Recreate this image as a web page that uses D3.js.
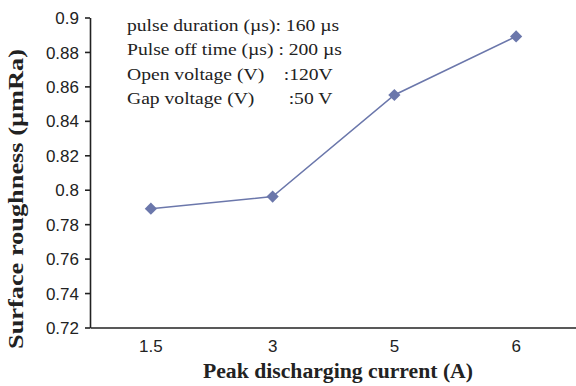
<!DOCTYPE html>
<html><head><meta charset="utf-8">
<script src="https://cdn.jsdelivr.net/npm/d3@7"></script>
<style>body{margin:0;background:#fff}svg{display:block}</style>
</head><body>
<svg id="c" width="576" height="386"></svg>
<script>
const categories = ["1.5", "3", "5", "6"];
const roughness = [0.789, 0.796, 0.855, 0.889];
const yTicks = [0.72, 0.74, 0.76, 0.78, 0.8, 0.82, 0.84, 0.86, 0.88, 0.9];
const notes = ["pulse duration (\u00b5s): 160 \u00b5s", "Pulse off time (\u00b5s) : 200 \u00b5s", "Open voltage (V)    :120V", "Gap voltage (V)       :50 V"];

(function () {
const svg = d3.select("#c");
const mLeft = 90, mRight = 577, mTop = 17.5, mBottom = 327.5;
const x = d3.scaleBand().domain(categories).range([mLeft, mRight]);
const y = d3.scaleLinear().domain([0.72, 0.9]).range([mBottom, mTop]);
const col = "#6b77ab";

const ya = svg.append("g").attr("transform", `translate(${mLeft},0)`)
  .call(d3.axisLeft(y).tickValues(yTicks).tickFormat(d => String(+d.toFixed(2))).tickSize(5).tickSizeOuter(0));
const xa = svg.append("g").attr("transform", `translate(0,${mBottom})`)
  .call(d3.axisBottom(x).tickSize(0).tickSizeOuter(0));
[ya, xa].forEach(a => {
  a.selectAll("path, line").attr("stroke", "#222").attr("stroke-width", 1.6);
  a.selectAll("text").attr("font-family", "Liberation Sans, Arial, sans-serif").attr("font-size", 17).attr("fill", "#222");
});
ya.selectAll("text").attr("x", -11).attr("dy", "0.36em");
xa.selectAll("text").attr("dy", 0).attr("y", 24);

const line = d3.line().x((d, i) => x(categories[i]) + x.bandwidth() / 2).y(d => y(d));
svg.append("path").datum(roughness).attr("d", line).attr("fill", "none").attr("stroke", col).attr("stroke-width", 1.5);
svg.selectAll(".m").data(roughness).enter().append("path")
  .attr("transform", (d, i) => `translate(${x(categories[i]) + x.bandwidth() / 2},${y(d)})`)
  .attr("d", d3.symbol(d3.symbolDiamond2, 95)).attr("fill", col);

svg.append("g").attr("transform", "translate(127,0) scale(1.14,1)")
  .selectAll("text").data(notes).enter().append("text")
  .attr("x", 0).attr("y", (d, i) => 31 + i * 24.4)
  .attr("font-family", "Liberation Serif, Times New Roman, serif").attr("font-size", 17.2)
  .attr("fill", "#222").attr("xml:space", "preserve").style("white-space", "pre").text(d => d);

svg.append("text").attr("transform", "translate(23,199) rotate(-90)").attr("text-anchor", "middle")
  .attr("font-family", "Liberation Serif, Times New Roman, serif").attr("font-size", 20).attr("font-weight", "bold")
  .attr("textLength", 300).attr("lengthAdjust", "spacingAndGlyphs")
  .attr("fill", "#222").text("Surface roughness (\u00b5mRa)");
svg.append("text").attr("x", 338).attr("y", 378).attr("text-anchor", "middle")
  .attr("font-family", "Liberation Serif, Times New Roman, serif").attr("font-size", 20).attr("font-weight", "bold")
  .attr("textLength", 270).attr("lengthAdjust", "spacingAndGlyphs")
  .attr("fill", "#222").text("Peak discharging current (A)");
})();
</script>
</body></html>
